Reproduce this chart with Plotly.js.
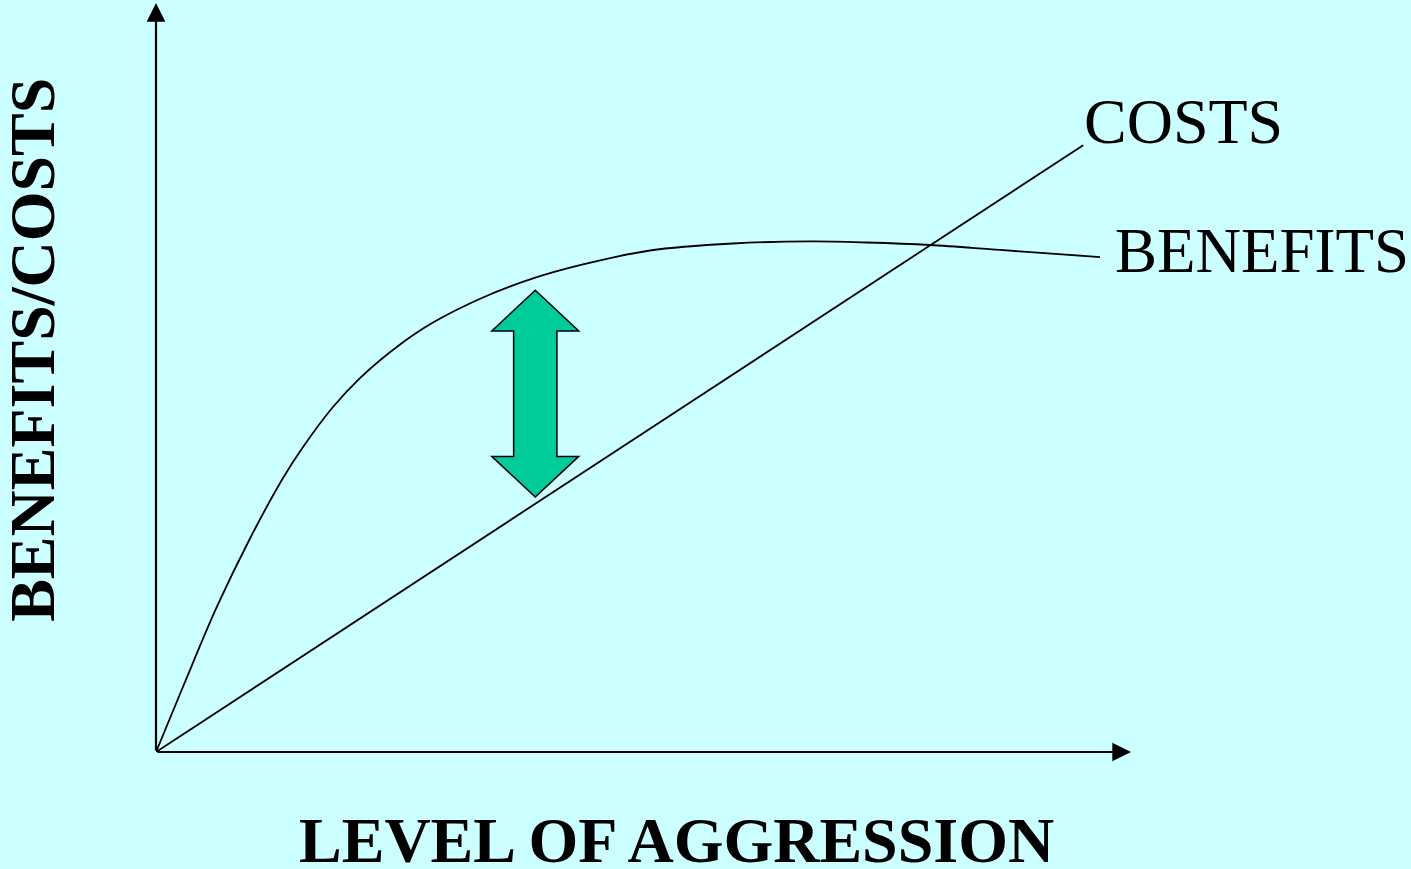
<!DOCTYPE html>
<html>
<head>
<meta charset="utf-8">
<script src="https://cdn.plot.ly/plotly-3.0.1.min.js"></script>
<style>
html,body{margin:0;padding:0;background:#CCFFFF;}
#chart{width:1411px;height:869px;}
</style>
</head>
<body>
<div id="chart"></div>
<script>
// Level of aggression (arbitrary units, 0-100)
var benefitsX = [0, 2.77, 6.26, 9.64, 13.03, 15.08, 18.15, 20.92, 25.03, 28.41, 33.54, 38.67, 43.79, 50.67, 59.18, 67.08, 72.92, 79.38, 86.56, 96.82];
var benefitsY = [0, 8.68, 19.35, 28.39, 36.44, 40.56, 45.88, 49.73, 54.19, 57.11, 60.44, 62.97, 64.83, 66.69, 67.62, 67.89, 67.75, 67.42, 66.76, 65.82];
var costsX = [0, 95.1];
var costsY = [0, 80.7];

// Net benefit indicator (double arrow) at this level of aggression
var gapX = 38.9;
var gapTop = 61.4;
var gapBottom = 33.9;

var labelCosts = "COSTS";
var labelBenefits = "BENEFITS";
var xTitle = "LEVEL OF AGGRESSION";
var yTitle = "BENEFITS/COSTS";

var serif = "Liberation Serif, Times New Roman, serif";

// double-arrow path in data coords
var hw = 4.46, sw = 2.22, hl = 5.41;
function arrowPath(cx, top, bot) {
  var p = [
    [cx, top], [cx + hw, top - hl], [cx + sw, top - hl], [cx + sw, bot + hl],
    [cx + hw, bot + hl], [cx, bot], [cx - hw, bot + hl], [cx - sw, bot + hl],
    [cx - sw, top - hl], [cx - hw, top - hl]
  ];
  return "M " + p.map(function (q) { return q[0] + "," + q[1]; }).join(" L ") + " Z";
}

var traces = [
  {x: costsX, y: costsY, mode: "lines", line: {color: "#000", width: 1.8}, hoverinfo: "skip", cliponaxis: false},
  {x: benefitsX, y: benefitsY, mode: "lines", line: {color: "#000", width: 1.8, shape: "spline", smoothing: 1}, hoverinfo: "skip", cliponaxis: false}
];

var layout = {
  width: 1411, height: 869,
  margin: {l: 156, r: 280, t: 0, b: 117},
  paper_bgcolor: "#CCFFFF", plot_bgcolor: "#CCFFFF",
  showlegend: false,
  xaxis: {range: [0, 100], showgrid: false, zeroline: false, showticklabels: false, ticks: "", showline: false, fixedrange: true},
  yaxis: {range: [0, 100], showgrid: false, zeroline: false, showticklabels: false, ticks: "", showline: false, fixedrange: true},
  shapes: [
    {type: "path", xref: "x", yref: "y", path: arrowPath(gapX, gapTop, gapBottom),
     fillcolor: "#00CC99", line: {color: "#000", width: 1.5}}
  ],
  annotations: [
    // y axis with arrow
    {x: 0, y: 99.6, ax: 0, ay: 0, axref: "x", ayref: "y", xref: "x", yref: "y", text: "", showarrow: true,
     arrowhead: 2, arrowsize: 1.7, arrowwidth: 2.2, arrowcolor: "#000"},
    // x axis with arrow
    {x: 100, y: 0, ax: 0, ay: 0, axref: "x", ayref: "y", xref: "x", yref: "y", text: "", showarrow: true,
     arrowhead: 2, arrowsize: 1.7, arrowwidth: 2.2, arrowcolor: "#000"},
    {x: 95.0, y: 83.9, xref: "x", yref: "y", text: labelCosts, showarrow: false, xanchor: "left", yanchor: "middle",
     font: {family: serif, size: 64, color: "#000"}},
    {x: 98.2, y: 66.6, xref: "x", yref: "y", text: labelBenefits, showarrow: false, xanchor: "left", yanchor: "middle",
     font: {family: serif, size: 63, color: "#000"}},
    {x: 0.534, y: -0.118, xref: "paper", yref: "paper", text: "<b>" + xTitle + "</b>", showarrow: false,
     xanchor: "center", yanchor: "middle", font: {family: serif, size: 64, color: "#000"}},
    {x: -0.126, y: 0.535, xref: "paper", yref: "paper", text: "<b>" + yTitle + "</b>", showarrow: false, textangle: -90,
     xanchor: "center", yanchor: "middle", font: {family: serif, size: 64, color: "#000"}}
  ]
};

Plotly.newPlot("chart", traces, layout, {staticPlot: true, displayModeBar: false});
</script>
</body>
</html>
